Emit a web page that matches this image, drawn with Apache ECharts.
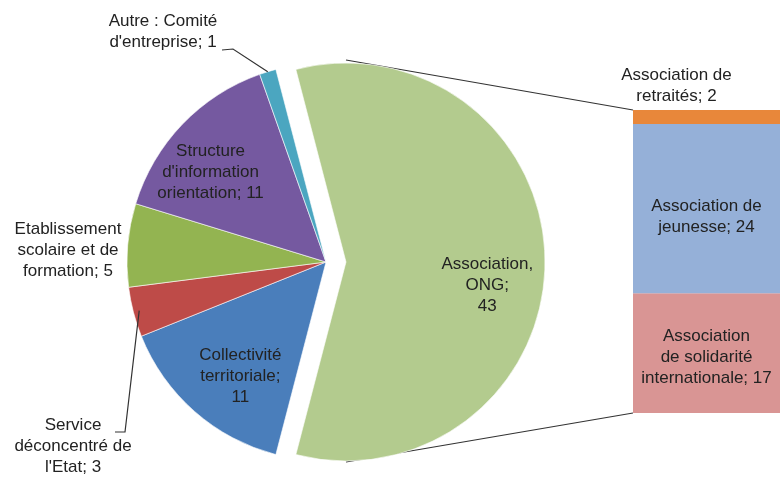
<!DOCTYPE html>
<html><head><meta charset="utf-8">
<script src="https://cdn.jsdelivr.net/npm/echarts@6/dist/echarts.min.js"></script>
<style>html,body{margin:0;padding:0;background:#fff}#c{width:780px;height:477px}</style>
</head><body><div id="c"></div>
<script>
// ---- data ----
const pieNames = ['Association, ONG', 'Collectivité territoriale', "Service déconcentré de l'Etat", 'Etablissement scolaire et de formation', "Structure d'information orientation", "Autre : Comité d'entreprise"];
const pieLabelNames = ['Association,\nONG', 'Collectivité\nterritoriale', "Service\ndéconcentré de\nl'Etat", 'Etablissement\nscolaire et de\nformation', "Structure\nd'information\norientation", "Autre : Comité\nd'entreprise"];
const pieValueSep = [';\n', ';\n', '; ', '; ', '; ', '; '];
const pieValues = [43, 11, 3, 5, 11, 1];
const pieColors = ['#B3CB8E', '#4A7EBB', '#BE4B48', '#93B451', '#7559A0', '#4BA6C0'];

const barNames = ['Association de solidarité internationale', 'Association de jeunesse', 'Association de retraités'];
const barLabelNames = ['Association\nde solidarité\ninternationale', 'Association de\njeunesse', 'Association de\nretraités'];
const barValues = [17, 24, 2];
const barColors = ['#D99594', '#95B0D8', '#E8873A'];

// ---- layout ----
const CX = 326, CY = 262, R = 199, OFF = 20;
const GRID_LEFT = 633, GRID_TOP = 110, GRID_BOTTOM = 64, GRID_W = 164;
const FONT = '"Liberation Sans", Arial, sans-serif';
const TXT = '#222';

const total = pieValues.reduce((a, b) => a + b, 0);
const barTotal = barValues.reduce((a, b) => a + b, 0);
const startAngle = pieValues[0] / total * 180;
function midAngle(i) {
  let a = startAngle;
  for (let j = 0; j < i; j++) a -= pieValues[j] / total * 360;
  return a - pieValues[i] / total * 180;
}
function polar(i, k) {
  const a = midAngle(i) * Math.PI / 180;
  const cx = CX + (i === 0 ? OFF : 0);
  return [cx + k * R * Math.cos(a), CY - k * R * Math.sin(a)];
}
const pieLabelPlace = [
  { k: 0.71, dx: 0, dy: 23 },
  { k: 0.72, dx: 9, dy: 7 },
  { x: 73, y: 446 },
  { x: 68, y: 250 },
  { k: 0.72, dx: -12, dy: 9 },
  { x: 163, y: 32 }
];

const chart = echarts.init(document.getElementById('c'), null, { renderer: 'canvas' });

// two pie series from the same data: one draws the exploded slice, the other the rest
function pieSeries(exploded) {
  return {
    type: 'pie',
    center: [CX + (exploded ? OFF : 0), CY],
    radius: R,
    startAngle: startAngle,
    clockwise: true,
    silent: true,
    emphasis: { disabled: true },
    itemStyle: { borderColor: '#fff', borderWidth: 0.6 },
    label: {
      show: true, position: 'inside', color: TXT, fontFamily: FONT, fontSize: 17, lineHeight: 21, align: 'center',
      formatter: p => pieLabelNames[p.dataIndex] + pieValueSep[p.dataIndex] + p.value
    },
    labelLine: { show: false },
    labelLayout: params => {
      const p = pieLabelPlace[params.dataIndex];
      if (p.k != null) {
        const [x, y] = polar(params.dataIndex, p.k);
        return { x: x + p.dx, y: y + p.dy, align: 'center', verticalAlign: 'middle' };
      }
      return { x: p.x, y: p.y, align: 'center', verticalAlign: 'middle' };
    },
    data: pieNames.map((n, i) => {
      const mine = exploded ? i === 0 : i !== 0;
      return {
        name: n,
        value: pieValues[i],
        itemStyle: mine ? { color: pieColors[i] } : { color: 'rgba(0,0,0,0)', borderWidth: 0 },
        label: { show: mine }
      };
    })
  };
}

const barSeries = barValues.map((v, i) => ({
  type: 'bar',
  name: barNames[i],
  stack: 'b',
  barWidth: '100%',
  xAxisIndex: 0, yAxisIndex: 0,
  data: [v],
  itemStyle: { color: barColors[i] },
  label: {
    show: true,
    position: i === 2 ? 'top' : 'inside',
    offset: i === 2 ? [-30, 0] : (i === 1 ? [0, 8] : [0, 4]),
    distance: 3,
    color: TXT, fontFamily: FONT, fontSize: 17, lineHeight: 21,
    formatter: () => barLabelNames[i] + '; ' + v
  },
  emphasis: { disabled: true },
  silent: true
}));

const option = {
  animation: false,
  backgroundColor: '#fff',
  grid: { left: GRID_LEFT, top: GRID_TOP, bottom: GRID_BOTTOM, width: GRID_W },
  xAxis: { type: 'category', data: ['b'], show: false },
  yAxis: { type: 'value', min: 0, max: barTotal, show: false, splitLine: { show: false } },
  series: [pieSeries(false), pieSeries(true)].concat(barSeries)
};
chart.setOption(option);

// connector and leader lines
const yTop = chart.convertToPixel({ yAxisIndex: 0 }, barTotal);
const yBot = chart.convertToPixel({ yAxisIndex: 0 }, 0);
const gx = CX + OFF;
const la = pieLabelPlace[5], ls = pieLabelPlace[2];
const lineStyle = { stroke: '#333', lineWidth: 1.2, fill: null };
chart.setOption({
  graphic: [
    { type: 'polyline', z: 0, silent: true, shape: { points: [[gx, CY - R - 3], [GRID_LEFT, yTop]] }, style: lineStyle },
    { type: 'polyline', z: 0, silent: true, shape: { points: [[gx, CY + R + 1], [GRID_LEFT, yBot]] }, style: lineStyle },
    { type: 'polyline', z: 10, silent: true, shape: { points: [[la.x + 59, la.y + 18], [la.x + 70, la.y + 17], polar(5, 1)] }, style: lineStyle },
    { type: 'polyline', z: 10, silent: true, shape: { points: [polar(2, 0.97), [ls.x + 52, ls.y - 14], [ls.x + 42, ls.y - 14]] }, style: lineStyle }
  ]
});
</script>
</body></html>
